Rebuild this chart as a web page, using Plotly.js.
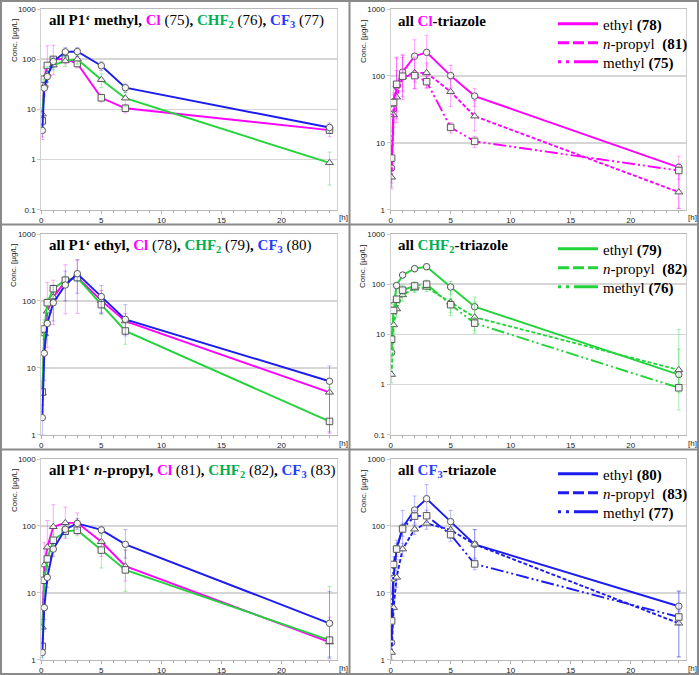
<!DOCTYPE html>
<html><head><meta charset="utf-8">
<script src="https://cdn.plot.ly/plotly-3.0.1.min.js"></script>
<style>html,body{margin:0;padding:0;background:#fff;}#chart{width:699px;height:675px;}</style>
</head><body><div id="chart"></div>
<script>
// ---------- DATA ----------
const times = [0.083, 0.25, 0.5, 1, 2, 3, 5, 7, 24];
// mean concentrations [µg/L]
const conc75 = [5.9, 40, 75, 99, 101, 82, 17, 10.5, 3.85];
const conc76 = [8, 30, 50, 76, 92, 100, 39, 16.7, 0.86];
const conc77 = [3.8, 26.5, 45, 90, 140, 142, 74, 27, 4.35];
const conc78 = [4.2, 32, 70, 114, 197, 225, 101, 50, 4.3];
const conc79 = [4.35, 38, 94, 152, 204, 223, 88, 35.5, 1.58];
const conc80 = [1.8, 16.5, 46, 94, 173, 255, 116, 53, 6.3];
const conc81 = [3.05, 26, 48, 97, 111, 111, 58, 25, 1.83];
const conc82 = [1.58, 15.4, 32, 61, 83, 86, 43.5, 22, 1.96];
const conc83 = [1.28, 6, 17, 45, 89, 109, 87, 53, 3.5];
// error bars (upper / lower)
const err75p = [3.4, 30, 110, 90, 20, 15, 3, 2, 1];
const err75m = [3.4, 15, 45, 50, 20, 15, 3, 2, 1];
const err76p = [3, 10, 20, 20, 20, 20, 12, 5, 0.55];
const err76m = [3, 10, 15, 15, 20, 20, 12, 5, 0.55];
const err77p = [1, 8, 10, 20, 30, 30, 15, 5, 1];
const err77m = [1, 8, 10, 20, 30, 30, 15, 5, 1];
const err78p = [2, 20, 120, 90, 150, 180, 42, 15, 2];
const err78m = [2, 15, 50, 70, 133, 160, 35, 15, 3.25];
const err79p = [1, 10, 15, 20, 30, 30, 25, 20, 3.5];
const err79m = [1, 10, 15, 20, 30, 30, 25, 13, 0.9];
const err80p = [1, 10, 15, 76, 107, 160, 54, 35, 4.4];
const err80m = [0.8, 10, 15, 44, 73, 125, 51, 23, 5.2];
const err81p = [1, 30, 72, 110, 80, 45, 30, 18, 2.5];
const err81m = [1, 12, 25, 38, 46, 36, 23, 10, 0.8];
const err82p = [0.5, 5, 10, 15, 15, 15, 30, 22, 10.5];
const err82m = [0.5, 5, 10, 15, 15, 15, 20, 11.5, 0.9];
const err83p = [0.5, 2, 5, 10, 15, 20, 10, 35, 7];
const err83m = [0.5, 2, 5, 10, 15, 20, 10, 20, 2.4];

const xTickVals = [0, 5, 10, 15, 20];
const xTickText = ['0', '5', '10', '15', '20'];
const yTickVals = [0.1, 1, 10, 100, 1000];
const yTickText = ['0.1', '1', '10', '100', '1000'];
const yTitle = 'Conc. [µg/L]';
const xUnit = '[h]';

const compounds = {
  75: {y: conc75, ep: err75p, em: err75m},
  76: {y: conc76, ep: err76p, em: err76m},
  77: {y: conc77, ep: err77p, em: err77m},
  78: {y: conc78, ep: err78p, em: err78m},
  79: {y: conc79, ep: err79p, em: err79m},
  80: {y: conc80, ep: err80p, em: err80m},
  81: {y: conc81, ep: err81p, em: err81m},
  82: {y: conc82, ep: err82p, em: err82m},
  83: {y: conc83, ep: err83p, em: err83m}
};

// ---------- STYLE ----------
const W = 699, H = 675;
const MAG = '#ff00ff', GRN = '#22d43a', BLU = '#1c1cf0';
const MAGT = '#ff00ff', GRNT = '#00b050', BLUT = '#1f3cff';
const rgba = {};
rgba[MAG] = 'rgba(255,0,255,0.35)';
rgba[GRN] = 'rgba(34,212,58,0.4)';
rgba[BLU] = 'rgba(28,28,240,0.3)';
const DASH = {solid: 'solid', dash: '4px,2px', dashdot: '13px,3px,2px,3px,2px,3px'};
const LDASH = {solid: 'solid', dash: '11px,4px', dashdot: '3px,5px,3px,5px,22px,0px'};
const serif = 'Liberation Serif';
const sans = 'Liberation Sans';

const px = v => v / W, py = v => 1 - v / H;
const colsX = [41.3, 390.6];
const plotW = 295.4;
const rowsY = [[9, 209.7], [234, 434.7], [459, 659.7]];
const rowOff = [0, 225, 450];
const legRows = [24, 43, 62];

function sp(c, t) { return "<span style='color:" + c + "'>" + t + "</span>"; }

const panels = [
  {col: 0, row: 0, ymin: 0.1,
   title: '<b>all P1‘ methyl, ' + sp(MAGT, 'Cl') + '</b> (75)<b>, ' + sp(GRNT, 'CHF<sub>2</sub>') + '</b> (76)<b>, ' + sp(BLUT, 'CF<sub>3</sub>') + '</b> (77)',
   series: [{id: 75, c: MAG, sym: 'square', d: 'solid'}, {id: 76, c: GRN, sym: 'triangle-up', d: 'solid'}, {id: 77, c: BLU, sym: 'circle', d: 'solid'}]},
  {col: 1, row: 0, ymin: 1, legend: true,
   title: '<b>all ' + sp(MAGT, 'Cl') + '-triazole</b>',
   series: [{id: 78, c: MAG, sym: 'circle', d: 'solid', lab: 'ethyl'}, {id: 81, c: MAG, sym: 'triangle-up', d: 'dash', lab: 'n-propyl'}, {id: 75, c: MAG, sym: 'square', d: 'dashdot', lab: 'methyl'}]},
  {col: 0, row: 1, ymin: 1,
   title: '<b>all P1‘ ethyl, ' + sp(MAGT, 'Cl') + '</b> (78)<b>, ' + sp(GRNT, 'CHF<sub>2</sub>') + '</b> (79)<b>, ' + sp(BLUT, 'CF<sub>3</sub>') + '</b> (80)',
   series: [{id: 78, c: MAG, sym: 'triangle-up', d: 'solid'}, {id: 79, c: GRN, sym: 'square', d: 'solid'}, {id: 80, c: BLU, sym: 'circle', d: 'solid'}]},
  {col: 1, row: 1, ymin: 0.1, legend: true,
   title: '<b>all ' + sp(GRNT, 'CHF<sub>2</sub>') + '-triazole</b>',
   series: [{id: 79, c: GRN, sym: 'circle', d: 'solid', lab: 'ethyl'}, {id: 82, c: GRN, sym: 'triangle-up', d: 'dash', lab: 'n-propyl'}, {id: 76, c: GRN, sym: 'square', d: 'dashdot', lab: 'methyl'}]},
  {col: 0, row: 2, ymin: 1,
   title: '<b>all P1‘ <i>n</i>-propyl, ' + sp(MAGT, 'Cl') + '</b> (81)<b>, ' + sp(GRNT, 'CHF<sub>2</sub>') + '</b> (82)<b>, ' + sp(BLUT, 'CF<sub>3</sub>') + '</b> (83)',
   series: [{id: 81, c: MAG, sym: 'triangle-up', d: 'solid'}, {id: 82, c: GRN, sym: 'square', d: 'solid'}, {id: 83, c: BLU, sym: 'circle', d: 'solid'}]},
  {col: 1, row: 2, ymin: 1, legend: true,
   title: '<b>all ' + sp(BLUT, 'CF<sub>3</sub>') + '-triazole</b>',
   series: [{id: 80, c: BLU, sym: 'circle', d: 'solid', lab: 'ethyl'}, {id: 83, c: BLU, sym: 'triangle-up', d: 'dash', lab: 'n-propyl'}, {id: 77, c: BLU, sym: 'square', d: 'dashdot', lab: 'methyl'}]}
];

const traces = [];
const layout = {
  width: W, height: H, margin: {l: 0, r: 0, t: 0, b: 0, autoexpand: false},
  paper_bgcolor: '#fff', plot_bgcolor: '#fff', showlegend: true,
  annotations: [], shapes: []
};

let legCount = 0;
panels.forEach((p, i) => {
  const n = i + 1;
  const xa = 'xaxis' + (n === 1 ? '' : n), ya = 'yaxis' + (n === 1 ? '' : n);
  const xr = 'x' + (n === 1 ? '' : n), yr = 'y' + (n === 1 ? '' : n);
  const x0 = colsX[p.col], off = p.col * 349;
  const [yt, yb] = rowsY[p.row];
  layout[xa] = {
    domain: [px(x0), px(x0 + plotW)], anchor: yr, range: [0, 24.6],
    tickmode: 'array', tickvals: xTickVals, ticktext: xTickText,
    ticks: 'outside', ticklen: 3, tickcolor: '#b0b0b0',
    minor: {tickmode: 'linear', tick0: 0, dtick: 1, ticks: 'outside', ticklen: 2, tickcolor: '#b0b0b0'},
    showline: true, linecolor: '#b8b8b8', linewidth: 1, mirror: true,
    showgrid: false, zeroline: false, fixedrange: true,
    tickfont: {family: sans, size: 8, color: '#222'}
  };
  const yv = yTickVals.filter(v => v >= p.ymin), ytx = yTickText.slice(yTickVals.length - yv.length);
  layout[ya] = {
    domain: [py(yb), py(yt)], anchor: xr, type: 'log',
    range: [Math.log10(p.ymin), 3],
    tickmode: 'array', tickvals: yv, ticktext: ytx,
    ticks: 'outside', ticklen: 3, tickcolor: '#c8c8c8',
    showline: true, linecolor: '#d0d0d0', linewidth: 1, mirror: true,
    showgrid: true, gridcolor: '#d6d6d6', gridwidth: 1.5, zeroline: false, fixedrange: true,
    tickfont: {family: sans, size: 8, color: '#222'}
  };
  p.series.forEach(s => {
    const c = compounds[s.id];
    traces.push({
      type: 'scatter', mode: 'lines+markers', x: times, y: c.y, xaxis: xr, yaxis: yr,
      showlegend: false, cliponaxis: true,
      line: {color: s.c, width: 1.9, dash: DASH[s.d]},
      marker: {symbol: s.sym, size: s.sym === 'triangle-up' ? 7 : 6.5, color: '#f4f4f4', line: {color: '#5a5a5a', width: 1}},
      error_y: {type: 'data', symmetric: false, array: c.ep, arrayminus: c.em, color: rgba[s.c], thickness: 1, width: 2}
    });
  });
  if (p.legend) {
    p.series.forEach((s, k) => {
      legCount++;
      const lid = 'legend' + (legCount === 1 ? '' : legCount);
      const lab = s.lab === 'n-propyl' ? '<i>n</i>-propyl\u00a0 <b>(' + s.id + ')</b>' : s.lab + ' <b>(' + s.id + ')</b>';
      traces.push({
        type: 'scatter', mode: 'lines', x: [null], y: [null], xaxis: xr, yaxis: yr,
        legend: lid, name: lab, showlegend: true,
        line: {color: s.c, width: 3, dash: LDASH[s.d]}
      });
      layout[lid] = {
        x: px(553), xanchor: 'left', y: py(rowOff[p.row] + legRows[k]), yanchor: 'middle',
        bgcolor: 'rgba(255,255,255,0)', borderwidth: 0, font: {family: serif, size: 15, color: '#000'},
        itemwidth: 40, itemclick: false, itemdoubleclick: false
      };
    });
  }
  // panel title
  layout.annotations.push({
    xref: 'paper', yref: 'paper', x: px(off + 47), y: py(rowOff[p.row] + 21),
    xanchor: 'left', yanchor: 'middle', showarrow: false, text: p.title,
    font: {family: serif, size: 15, color: '#000'}
  });
  // y axis title
  layout.annotations.push({
    xref: 'paper', yref: 'paper', x: px(off + 14), y: py(rowOff[p.row] + 41),
    xanchor: 'center', yanchor: 'middle', showarrow: false, textangle: -90, text: yTitle,
    font: {family: sans, size: 8, color: '#222'}
  });
  // x unit
  layout.annotations.push({
    xref: 'paper', yref: 'paper', x: px(off + 343.5), y: py(rowOff[p.row] + 218),
    xanchor: 'center', yanchor: 'middle', showarrow: false, text: xUnit,
    font: {family: sans, size: 8, color: '#222'}
  });
});

// white legend background over the gridline of the CHF2 panel
layout.shapes.push({type: 'rect', xref: 'paper', yref: 'paper', layer: 'between',
  x0: px(534), x1: px(685), y0: py(297), y1: py(236), fillcolor: '#fff', line: {width: 0}});

// panel frames
const fr = {color: '#8a8a8a', width: 2};
layout.shapes.push({type: 'rect', xref: 'paper', yref: 'paper', x0: px(1), x1: px(698), y0: py(674), y1: py(1), line: fr});
layout.shapes.push({type: 'line', xref: 'paper', yref: 'paper', x0: px(349.5), x1: px(349.5), y0: 0, y1: 1, line: fr});
layout.shapes.push({type: 'line', xref: 'paper', yref: 'paper', x0: 0, x1: 1, y0: py(224.5), y1: py(224.5), line: fr});
layout.shapes.push({type: 'line', xref: 'paper', yref: 'paper', x0: 0, x1: 1, y0: py(449.5), y1: py(449.5), line: fr});

Plotly.newPlot('chart', traces, layout, {displayModeBar: false, staticPlot: true});
</script></body></html>
